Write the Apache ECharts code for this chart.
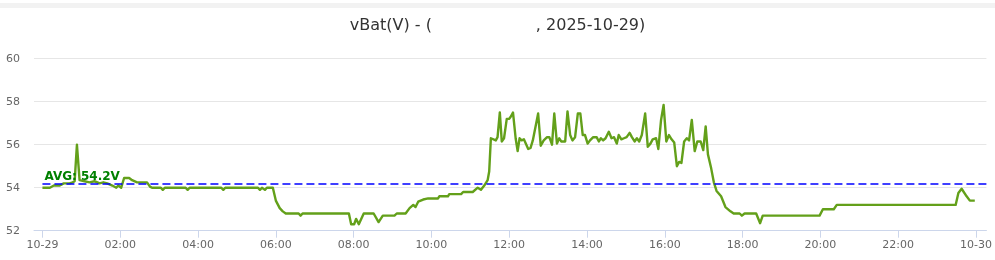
<!DOCTYPE html>
<html>
<head>
<meta charset="utf-8">
<script src="https://cdn.jsdelivr.net/npm/echarts@6/dist/echarts.min.js"></script>
<style>
html,body{margin:0;padding:0;background:#fff;}
#chart{width:995px;height:260px;}
</style>
</head>
<body>
<div id="chart"></div>
<script>
// minutes after 2025-10-29 00:00
const timeMin = [0,11.5,17.6,26.8,32.9,42,46.6,49.7,53.2,57.3,65,72.6,80.3,84.8,87.9,94,100,103,107.8,110.8,113.9,117,119.5,121.5,126,133.8,138.3,146,161.3,165.9,169,182.7,185.7,188.8,220.9,224,227,275.9,279,282,332.5,335.5,338.6,340.9,343.2,346.2,355.4,360,366,370.7,375.3,395.2,398.2,401.2,472.7,476.2,480.8,483.8,488,495.6,510.9,518.5,525,543,546.5,560.2,566.3,572,575.5,579.6,587.3,595,610.2,612.2,625.5,627.5,645.8,648.9,663.7,671.4,676.4,681.5,686.7,689.1,691.7,699.3,702,705.5,708.5,712,716.2,719.7,722.3,725.8,729.9,733,736,739.1,742.6,745.2,749.3,752.9,756.4,759.4,764.6,768.6,773.2,778.4,781.9,786,789.5,793.6,797.2,800.2,806.3,809.9,814,817.5,821.6,825.8,829.7,833.4,836.9,841,844.6,849.6,854.8,858.3,861.4,864.9,868.6,873.6,877.8,881.7,885.9,888.9,893,897,901.1,905.7,909.2,913.4,916.9,920.5,924.5,929.7,933.7,937.8,941.3,946.5,950,954.2,958.1,962.3,966.4,970.4,974.5,978.6,982.1,985.6,989.8,993.9,997.4,1001.6,1006.1,1010.1,1015.3,1019.3,1023,1026.5,1031.5,1035.6,1039.8,1046.8,1053.5,1061.2,1066.2,1075.4,1078.9,1083,1100.9,1107,1111,1198.7,1203.8,1220.6,1225.2,1408.6,1412.8,1417.8,1420.4,1425.5,1430.5,1438.1];
const vBat = [54.0,54.0,54.1,54.1,54.2,54.2,54.25,54.3,56.0,54.35,54.3,54.25,54.3,54.25,54.2,54.25,54.2,54.15,54.1,54.15,54.0,54.1,54.1,54.0,54.45,54.45,54.35,54.25,54.25,54.05,54.0,54.0,53.9,54.0,54.0,53.9,54.0,54.0,53.9,54.0,54.0,53.9,54.0,54.0,53.9,54.0,54.0,53.4,53.05,52.9,52.8,52.8,52.7,52.8,52.8,52.3,52.3,52.55,52.3,52.8,52.8,52.4,52.7,52.7,52.8,52.8,53.05,53.2,53.1,53.35,53.45,53.5,53.5,53.6,53.6,53.7,53.7,53.8,53.8,54.0,53.9,54.1,54.35,54.75,56.3,56.2,56.35,57.5,56.15,56.3,57.2,57.2,57.3,57.5,56.3,55.7,56.3,56.2,56.25,56.3,55.8,55.85,56.2,56.15,57.45,55.95,56.2,56.35,56.35,56.0,57.45,56.05,56.3,56.15,56.15,57.55,56.45,56.2,56.35,57.45,57.45,56.45,56.45,56.05,56.2,56.35,56.35,56.15,56.3,56.2,56.3,56.6,56.3,56.35,56.05,56.45,56.25,56.3,56.35,56.55,56.35,56.15,56.3,56.15,56.45,57.45,55.9,56.05,56.25,56.3,55.8,57.15,57.85,56.15,56.45,56.25,56.1,55.0,55.2,55.15,56.15,56.3,56.2,57.15,55.7,56.15,56.15,55.75,56.85,55.55,54.9,54.25,53.85,53.6,53.1,52.9,52.8,52.8,52.7,52.8,52.8,52.35,52.7,52.7,53.0,53.0,53.2,53.2,53.75,53.95,53.95,53.6,53.4,53.4];
const avgValue = 54.2;
const tickValues = [0,120,240,360,480,600,720,840,960,1080,1200,1320,1440];
const tickLabels = ['10-29','02:00','04:00','06:00','08:00','10:00','12:00','14:00','16:00','18:00','20:00','22:00','10-30'];
const titleLeft = 'vBat(V) - (';
const titleRight = ', 2025-10-29)';

const FONT = 'DejaVu Sans';
const chart = echarts.init(document.getElementById('chart'), null, {renderer: 'canvas'});
const seriesData = timeMin.map((t, i) => [t, vBat[i]]);
const avgLineStyle = {color: '#0000ff', type: [8, 4], width: 1.5, opacity: 1};
chart.setOption({
  animation: false,
  backgroundColor: '#fff',
  graphic: [{
    type: 'rect', left: 0, top: 3, shape: {width: 995, height: 5},
    style: {fill: '#f2f2f2'}, silent: true
  }],
  title: {
    text: '{a|' + titleLeft + '}{gap|}{a|' + titleRight + '}',
    left: 'center', top: 13,
    textStyle: {
      fontWeight: 'normal',
      rich: {
        a: {fontFamily: FONT, fontSize: 16, fontWeight: 'normal', color: '#333'},
        gap: {width: 104, height: 16}
      }
    }
  },
  grid: {left: 34, right: 0, top: 58.7, bottom: 29.3},
  xAxis: {
    type: 'value', min: -13, max: 1456,
    axisLine: {lineStyle: {color: '#ccd6eb'}},
    axisTick: {show: true, length: 7, customValues: tickValues, lineStyle: {color: '#ccd6eb'}},
    axisLabel: {
      customValues: tickValues, color: '#666', fontFamily: FONT, fontSize: 11, margin: 9,
      formatter: v => tickLabels[tickValues.indexOf(v)]
    },
    splitLine: {show: false}
  },
  yAxis: {
    type: 'value', min: 52, max: 60, interval: 2,
    axisLine: {show: false}, axisTick: {show: false},
    axisLabel: {color: '#666', fontFamily: FONT, fontSize: 11, margin: 14},
    splitLine: {lineStyle: {color: '#e6e6e6'}}
  },
  series: [{
    type: 'line', data: seriesData, showSymbol: false, symbol: 'none',
    lineStyle: {color: '#63a01a', width: 2.4, join: 'round'},
    markLine: {
      silent: true, symbol: 'none',
      lineStyle: avgLineStyle,
      itemStyle: {color: '#0000ff'},
      label: {
        show: true, position: 'insideStartTop', formatter: 'AVG: ' + avgValue + 'V',
        color: '#008000', fontFamily: FONT, fontSize: 12, fontWeight: 'bold', distance: [2, 1]
      },
      data: [[{coord: [0, avgValue], lineStyle: avgLineStyle}, {coord: [1456, avgValue]}]]
    }
  }]
});
</script>
</body>
</html>
